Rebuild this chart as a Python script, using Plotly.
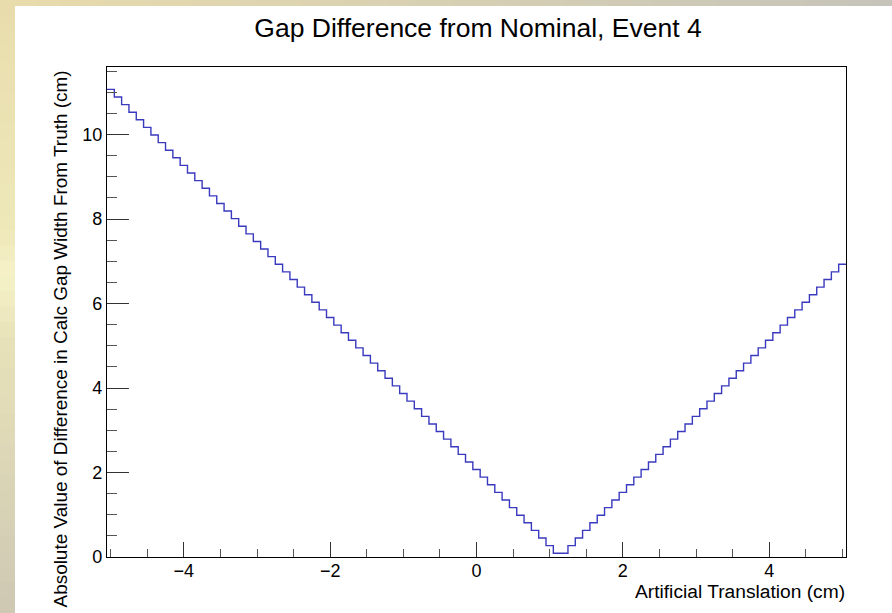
import numpy as np
import plotly.graph_objects as go

# ---- data ----
bin_centers = [round(-5.0 + 0.1 * i, 2) for i in range(101)]
gap_diff = [
    11.07, 10.89, 10.71, 10.53, 10.35, 10.17, 9.99, 9.81, 9.63, 9.45,
    9.27, 9.09, 8.91, 8.73, 8.55, 8.37, 8.19, 8.01, 7.83, 7.65,
    7.47, 7.29, 7.11, 6.93, 6.75, 6.57, 6.39, 6.21, 6.03, 5.85,
    5.67, 5.49, 5.31, 5.13, 4.95, 4.77, 4.59, 4.41, 4.23, 4.05,
    3.87, 3.69, 3.51, 3.33, 3.15, 2.97, 2.79, 2.61, 2.43, 2.25,
    2.07, 1.89, 1.71, 1.53, 1.35, 1.17, 0.99, 0.81, 0.63, 0.45,
    0.27, 0.09, 0.09, 0.27, 0.45, 0.63, 0.81, 0.99, 1.17, 1.35,
    1.53, 1.71, 1.89, 2.07, 2.25, 2.43, 2.61, 2.79, 2.97, 3.15,
    3.33, 3.51, 3.69, 3.87, 4.05, 4.23, 4.41, 4.59, 4.77, 4.95,
    5.13, 5.31, 5.49, 5.67, 5.85, 6.03, 6.21, 6.39, 6.57, 6.75,
    6.93,
]
x_ticks = [-4, -2, 0, 2, 4]
y_ticks = [0, 2, 4, 6, 8, 10]

title = "Gap Difference from Nominal, Event 4"
x_title = "Artificial Translation (cm)"
y_title = "Absolute Value of Difference in Calc Gap Width From Truth (cm)"

# ---- histogram step outline ----
centers = np.array(bin_centers)
width = centers[1] - centers[0]
edges = np.append(centers - width / 2, centers[-1] + width / 2)
ys = list(gap_diff) + [gap_diff[-1]]

W, H = 892, 613
L, R, T, B = 107, 46, 67, 56
pw, ph = W - L - R, H - T - B


def px_x(p):
    return (p - L) / pw


def px_y(p):
    return (H - B - p) / ph


fig = go.Figure()
fig.add_trace(go.Scatter(
    x=edges, y=ys, mode="lines", line=dict(shape="hv", color="#3a3abf", width=1.4),
    hoverinfo="skip", showlegend=False,
))

shapes = []


def mix(c1, c2, t):
    return "rgb(%d,%d,%d)" % tuple(round(a + (b - a) * t) for a, b in zip(c1, c2))


# left decorative strip (vertical gradient)
stops = [(0, (232, 220, 172)), (0.38, (238, 232, 185)), (0.45, (246, 242, 200)),
         (0.55, (232, 226, 185)), (1.0, (206, 200, 180))]
n = 40
for k in range(n):
    t = (k + 0.5) / n
    for j in range(len(stops) - 1):
        if stops[j][0] <= t <= stops[j + 1][0]:
            tt = (t - stops[j][0]) / (stops[j + 1][0] - stops[j][0])
            col = mix(stops[j][1], stops[j + 1][1], tt)
            break
    y0p, y1p = H * k / n, H * (k + 1) / n + 1
    shapes.append(dict(type="rect", xref="paper", yref="paper", layer="below",
                       x0=px_x(0), x1=px_x(15), y0=px_y(y1p), y1=px_y(y0p),
                       line=dict(width=0), fillcolor=col))
# top decorative strip (horizontal gradient)
for k in range(n):
    t = (k + 0.5) / n
    col = mix((232, 219, 172), (198, 196, 186), t)
    x0p, x1p = 15 + (W - 15) * k / n, 15 + (W - 15) * (k + 1) / n + 1
    shapes.append(dict(type="rect", xref="paper", yref="paper", layer="below",
                       x0=px_x(x0p), x1=px_x(x1p), y0=px_y(6), y1=px_y(0),
                       line=dict(width=0), fillcolor=col))

font_family = "Liberation Sans, Arial, Helvetica, sans-serif"

fig.update_layout(
    width=W, height=H,
    margin=dict(l=L, r=R, t=T, b=B, pad=0),
    paper_bgcolor="white", plot_bgcolor="white",
    shapes=shapes,
    font=dict(family=font_family, color="black", size=18),
    title=dict(text=title, x=px_x(478), xref="paper", xanchor="center",
               y=1 - 28 / H, yref="container", yanchor="middle",
               font=dict(size=26.5, family=font_family, color="black")),
    annotations=[
        dict(text=x_title, xref="paper", yref="paper", x=1.0, xanchor="right",
             y=px_y(591), yanchor="middle", showarrow=False, xshift=1,
             font=dict(size=19.2, family=font_family, color="black")),
        dict(text=y_title, xref="paper", yref="paper", x=px_x(60), xanchor="center",
             y=px_y(69), yanchor="top", textangle=-90, showarrow=False,
             font=dict(size=18.95, family=font_family, color="black")),
    ],
    xaxis=dict(
        range=[edges[0], edges[-1]], tickvals=x_ticks,
        ticktext=[("\u2212%d" % -v) if v < 0 else str(v) for v in x_ticks],
        ticks="inside", ticklen=15, tickwidth=1, tickcolor="#333",
        minor=dict(dtick=0.5, tick0=0, ticks="inside", ticklen=8, tickwidth=1, tickcolor="#555"),
        showline=True, linecolor="black", linewidth=1.2, mirror=True,
        showgrid=False, zeroline=False, tickfont=dict(size=18),
        ticklabelstandoff=-3,
    ),
    yaxis=dict(
        range=[0, 11.6], tickvals=y_ticks,
        ticks="inside", ticklen=22, tickwidth=1, tickcolor="#333",
        minor=dict(dtick=0.5, tick0=0, ticks="inside", ticklen=10, tickwidth=1, tickcolor="#555"),
        showline=True, linecolor="black", linewidth=1.2, mirror=True,
        showgrid=False, zeroline=False, tickfont=dict(size=18),
    ),
)

fig.write_html("out.html")
